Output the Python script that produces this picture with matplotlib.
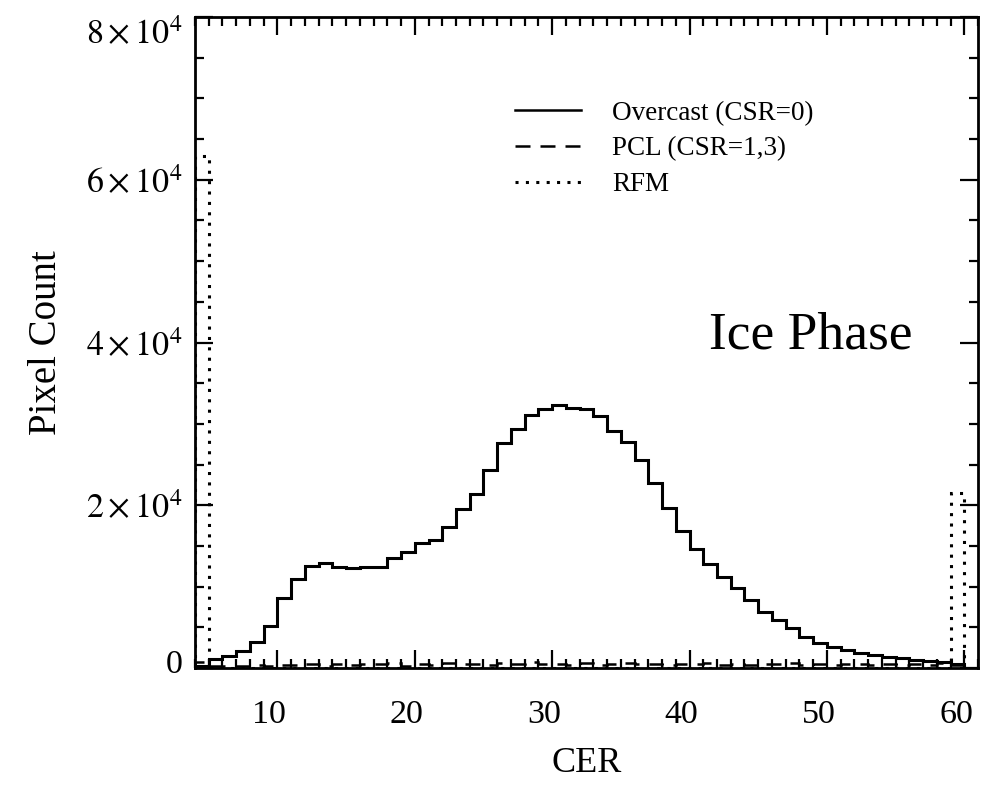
import matplotlib
matplotlib.use('Agg')
import matplotlib.pyplot as plt
import matplotlib.transforms as mtransforms
from matplotlib.lines import Line2D
from matplotlib.ticker import MultipleLocator
import numpy as np

# CER bin edges (one-micron bins) and pixel counts per bin
cer_edges = np.arange(4, 61)

overcast = [300, 1070, 1480, 2090, 3160, 5200, 8640, 10930, 12530, 12860,
            12450, 12290, 12450, 12400, 13470, 14210, 15400, 15720, 17320, 19530,
            21340, 24320, 27600, 29320, 31080, 31820, 32310, 31980, 31800, 31000,
            29130, 27800, 25540, 22770, 19690, 16830, 14580, 12740, 11140, 9790,
            8300, 6920, 5900, 4870, 3850, 3110, 2620, 2210, 1880, 1600,
            1390, 1190, 980, 860, 770, 500]

pcl = [700, 300, 250, 300, 350, 300, 400, 350, 450, 300,
       500, 350, 550, 450, 600, 300, 500, 400, 650, 450,
       550, 350, 600, 500, 700, 450, 550, 400, 650, 350,
       500, 600, 450, 550, 350, 500, 450, 600, 400, 500,
       350, 550, 450, 600, 400, 500, 350, 450, 550, 400,
       500, 350, 450, 400, 600, 400]

rfm = [62900] + [0] * 54 + [21460]

series_labels = ['Overcast (CSR=0)', 'PCL (CSR=1,3)', 'RFM']
y_ticks = [0, 20000, 40000, 60000, 80000]
y_tick_labels = ['0', r'$2\times10^4$', r'$4\times10^4$', r'$6\times10^4$', r'$8\times10^4$']

plt.rcParams['font.family'] = ['Liberation Serif', 'DejaVu Serif']
plt.rcParams['mathtext.fontset'] = 'stix'

fig = plt.figure(figsize=(9.96, 7.91), dpi=100)
ax = fig.add_axes([0.1958, 0.1555, 0.7861, 0.8230])

dotted = (0, (1, 2.4))
dashed = (0, (6, 4))
ax.stairs(overcast, cer_edges, color='k', lw=2.2)
ax.stairs(pcl, cer_edges, color='k', lw=1.8, linestyle=dashed)
ax.stairs(rfm, cer_edges, color='k', lw=2.2, linestyle=dotted)

ax.set_xlim(4, 61)
ax.set_ylim(0, 80000)
ax.xaxis.set_major_locator(MultipleLocator(10))
ax.xaxis.set_minor_locator(MultipleLocator(1))
ax.set_yticks(y_ticks)
ax.set_yticklabels(y_tick_labels)
ax.yaxis.set_minor_locator(MultipleLocator(5000))

ax.tick_params(which='both', direction='in', top=True, right=True, width=1.6, labelsize=24.5)
ax.tick_params(which='major', length=13)
ax.tick_params(which='minor', length=6.5)
ax.tick_params(axis='x', pad=23)
ax.tick_params(axis='y', pad=9)
for sp in ax.spines.values():
    sp.set_linewidth(2)

# IDL puts the x labels a little left of the ticks
shift = mtransforms.ScaledTranslation(-8 / 100, 0, fig.dpi_scale_trans)
for lab in ax.get_xticklabels():
    lab.set_transform(lab.get_transform() + shift)
# and squeezes the end labels of the y axis inwards
ylabs = ax.get_yticklabels()
ylabs[0].set_transform(ylabs[0].get_transform() + mtransforms.ScaledTranslation(0, 7 / 100, fig.dpi_scale_trans))
ylabs[-1].set_transform(ylabs[-1].get_transform() + mtransforms.ScaledTranslation(0, -14 / 100, fig.dpi_scale_trans))

ax.set_xlabel('CER', fontsize=26, labelpad=12)
ax.set_ylabel('Pixel Count', fontsize=28, labelpad=15)

ax.text(0.916, 0.511, 'Ice Phase', transform=ax.transAxes, fontsize=38.5, ha='right', va='center')

handles = [Line2D([], [], color='k', lw=1.8),
           Line2D([], [], color='k', lw=1.8, linestyle=dashed),
           Line2D([], [], color='k', lw=2.2, linestyle=dotted)]
ax.legend(handles, series_labels, loc='upper left', bbox_to_anchor=(0.377, 0.909),
          frameon=False, fontsize=19.5, handlelength=2.45, handletextpad=1.15,
          labelspacing=0.4)

fig.savefig('out.png', dpi=100)
